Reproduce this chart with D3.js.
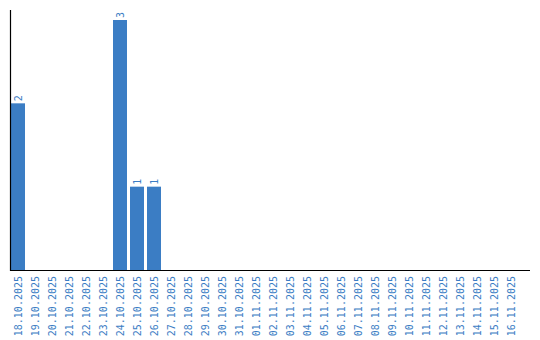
<!DOCTYPE html>
<html><head><meta charset="utf-8">
<script src="https://cdn.jsdelivr.net/npm/d3@7"></script>
<style>body{margin:0;background:#fff}svg{display:block}</style>
</head><body>
<script>
const dates = ["18.10.2025","19.10.2025","20.10.2025","21.10.2025","22.10.2025","23.10.2025","24.10.2025","25.10.2025","26.10.2025","27.10.2025","28.10.2025","29.10.2025","30.10.2025","31.10.2025","01.11.2025","02.11.2025","03.11.2025","04.11.2025","05.11.2025","06.11.2025","07.11.2025","08.11.2025","09.11.2025","10.11.2025","11.11.2025","12.11.2025","13.11.2025","14.11.2025","15.11.2025","16.11.2025"];
const counts = [2,0,0,0,0,0,3,1,1,0,0,0,0,0,0,0,0,0,0,0,0,0,0,0,0,0,0,0,0,0];

const W = 540, H = 340;
const blue = "#3b7dc4";
const font = "DejaVu Sans Mono, monospace";
const svg = d3.select("body").append("svg").attr("width", W).attr("height", H);

const x = d3.scaleBand().domain(dates).range([11, 518]).paddingInner(3/17).paddingOuter(0);
const y = d3.scaleLinear().domain([0, 3]).range([270, 20]);

const data = dates.map((d, i) => ({d, v: counts[i]}));

svg.selectAll("rect.bar").data(data.filter(e => e.v > 0)).join("rect")
  .attr("class", "bar")
  .attr("x", e => x(e.d)).attr("width", x.bandwidth())
  .attr("y", e => y(e.v)).attr("height", e => y(0) - y(e.v))
  .attr("fill", blue);

svg.selectAll("text.val").data(data.filter(e => e.v > 0)).join("text")
  .attr("class", "val")
  .attr("transform", e => `translate(${x(e.d) + x.bandwidth()/2},${y(e.v) - 2}) rotate(-90)`)
  .attr("dy", "0.35em")
  .attr("font-family", font).attr("font-size", 10)
  .attr("fill", blue)
  .text(e => e.v);

// x axis
const xAxis = svg.append("g").attr("transform", "translate(0,270)")
  .call(d3.axisBottom(x).tickSize(0).tickPadding(0));
xAxis.select(".domain").remove();
xAxis.selectAll("text")
  .attr("font-family", font).attr("font-size", 10)
  .attr("fill", blue)
  .attr("text-anchor", "end")
  .attr("transform", "translate(0,6) rotate(-90)")
  .attr("x", 0).attr("y", 0).attr("dy", "0.35em");

svg.append("line").attr("x1", 10).attr("x2", 530).attr("y1", 270.5).attr("y2", 270.5)
  .attr("stroke", "#000").attr("stroke-width", 1.2);
svg.append("line").attr("x1", 10.5).attr("x2", 10.5).attr("y1", 10).attr("y2", 271)
  .attr("stroke", "#000").attr("stroke-width", 1.2);
</script>
</body></html>
